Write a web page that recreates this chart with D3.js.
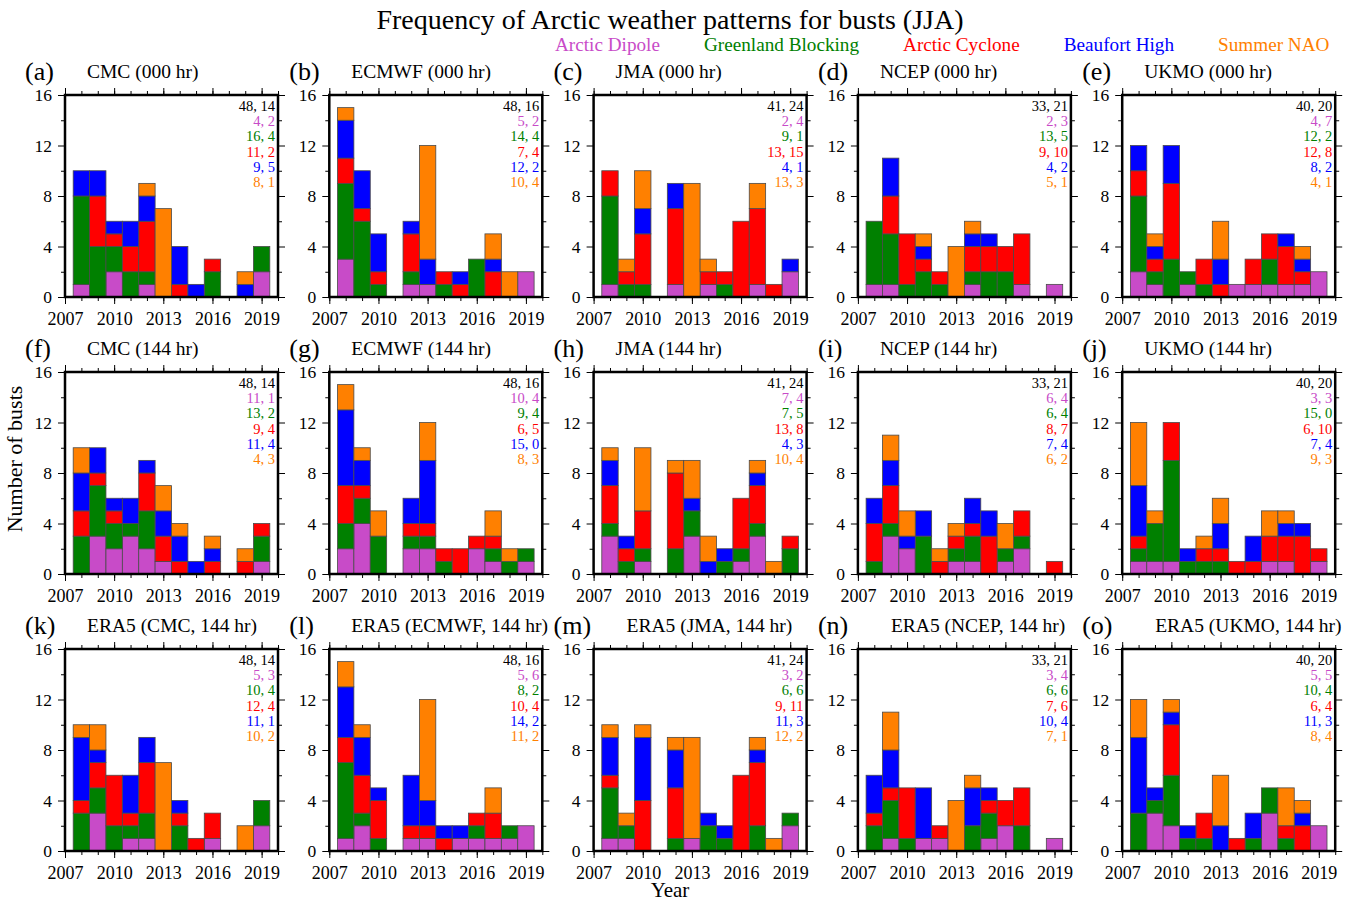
<!DOCTYPE html>
<html lang="en">
<head>
<meta charset="utf-8">
<title>Frequency of Arctic weather patterns for busts (JJA)</title>
<script src="https://d3js.org/d3.v7.min.js"></script>
<style>
  body { margin: 0; background: white; }
  svg { display: block; font-family: "Liberation Serif", "Times New Roman", serif; }
</style>
</head>
<body>
<div id="chart"></div>
<script>

// years shown as bars, and the year labels on the x axis
const years = [2008, 2009, 2010, 2011, 2012, 2013, 2014, 2015, 2016, 2017, 2018, 2019];
const yearLabels = [2007, 2010, 2013, 2016, 2019];
const countTicks = [0, 4, 8, 12, 16];

const patterns = ["Arctic Dipole", "Greenland Blocking", "Arctic Cyclone", "Beaufort High", "Summer NAO"];
const colors = ["#c84bc8", "#008000", "#ff0000", "#0000ff", "#ff8000"];

// each panel: one row per pattern (same order as above), one value per year 2008-2019
const cmc000 = [
  [1,0,2,0,1,0,0,0,0,0,0,2],
  [7,4,2,2,1,0,0,0,2,0,0,2],
  [0,4,1,2,4,0,1,0,1,0,0,0],
  [2,2,1,2,2,0,3,1,0,0,1,0],
  [0,0,0,0,1,7,0,0,0,0,1,0]];
const ecmwf000 = [
  [3,0,0,0,1,1,0,0,0,0,0,2],
  [6,6,1,0,1,0,1,0,3,0,0,0],
  [2,1,1,0,3,0,1,1,0,2,0,0],
  [3,3,3,0,1,2,0,1,0,1,0,0],
  [1,0,0,0,0,9,0,0,0,2,2,0]];
const jma000 = [
  [1,0,0,0,1,0,1,0,0,1,0,2],
  [7,1,1,0,0,0,0,1,0,0,0,0],
  [2,1,4,0,6,0,1,1,6,6,1,0],
  [0,0,2,0,2,0,0,0,0,0,0,1],
  [0,1,3,0,0,9,1,0,0,2,0,0]];
const ncep000 = [
  [1,1,0,0,0,0,1,0,0,1,0,1],
  [5,4,1,2,1,0,1,2,2,0,0,0],
  [0,3,4,1,1,0,2,2,2,4,0,0],
  [0,3,0,1,0,0,1,1,0,0,0,0],
  [0,0,0,1,0,4,1,0,0,0,0,0]];
const ukmo000 = [
  [2,1,0,1,0,0,1,1,1,1,1,2],
  [6,1,3,1,1,0,0,0,2,0,0,0],
  [2,1,6,0,2,1,0,2,2,3,1,0],
  [2,1,3,0,0,2,0,0,0,1,1,0],
  [0,1,0,0,0,3,0,0,0,0,1,0]];
const cmc144 = [
  [0,3,2,3,2,1,0,0,0,0,0,1],
  [3,4,2,1,3,0,0,0,0,0,0,2],
  [2,1,1,0,3,2,1,0,1,0,1,1],
  [3,2,1,2,1,2,2,1,1,0,0,0],
  [2,0,0,0,0,2,1,0,1,0,1,0]];
const ecmwf144 = [
  [2,4,0,0,2,2,0,0,2,1,0,1],
  [2,2,3,0,1,1,1,0,0,1,1,1],
  [3,1,0,0,1,1,1,2,1,1,0,0],
  [6,2,0,0,2,5,0,0,0,0,0,0],
  [2,1,2,0,0,3,0,0,0,2,1,0]];
const jma144 = [
  [3,0,1,0,0,3,0,0,1,3,0,0],
  [1,1,1,0,2,2,0,1,1,1,0,2],
  [3,1,3,0,6,0,0,0,4,3,0,1],
  [2,1,0,0,0,1,1,1,0,1,0,0],
  [1,0,5,0,1,3,2,0,0,1,1,0]];
const ncep144 = [
  [0,3,2,0,0,1,1,0,1,2,0,0],
  [1,1,0,3,0,1,2,0,1,1,0,0],
  [3,3,0,0,1,1,1,3,0,2,0,1],
  [2,2,1,2,0,0,2,2,0,0,0,0],
  [0,2,2,0,1,1,0,0,2,0,0,0]];
const ukmo144 = [
  [1,1,1,0,0,0,0,0,1,1,0,1],
  [1,3,8,1,1,1,0,0,0,0,0,0],
  [1,0,3,0,1,1,1,1,2,2,3,1],
  [4,0,0,1,0,2,0,2,0,1,1,0],
  [5,1,0,0,1,2,0,0,2,1,0,0]];
const era5cmc = [
  [0,3,0,1,1,0,0,0,1,0,0,2],
  [3,2,2,1,2,0,2,0,0,0,0,2],
  [1,2,4,1,4,0,1,1,2,0,0,0],
  [5,1,0,3,2,0,1,0,0,0,0,0],
  [1,2,0,0,0,7,0,0,0,0,2,0]];
const era5ecmwf = [
  [1,2,0,0,1,1,0,1,1,1,1,2],
  [6,1,1,0,0,0,0,0,1,0,1,0],
  [2,3,3,0,1,1,1,0,1,2,0,0],
  [4,3,1,0,4,2,1,1,0,0,0,0],
  [2,1,0,0,0,8,0,0,0,2,0,0]];
const era5jma = [
  [1,1,0,0,0,1,0,0,0,0,0,2],
  [4,1,0,0,1,0,2,1,0,2,0,1],
  [1,0,4,0,4,0,0,0,6,5,0,0],
  [3,0,5,0,3,0,1,1,0,1,0,0],
  [1,1,1,0,1,8,0,0,0,1,1,0]];
const era5ncep = [
  [0,1,0,1,1,0,0,1,2,0,0,1],
  [2,3,1,0,0,0,2,2,0,2,0,0],
  [1,1,4,0,1,0,0,1,2,3,0,0],
  [3,3,0,4,0,0,3,1,0,0,0,0],
  [0,3,0,0,0,4,1,0,0,0,0,0]];
const era5ukmo = [
  [0,3,2,0,0,0,0,0,3,0,0,2],
  [3,1,4,1,1,0,0,1,2,1,0,0],
  [0,0,4,0,2,0,1,0,0,1,2,0],
  [6,1,1,1,0,2,0,2,0,0,1,0],
  [3,0,1,0,0,4,0,0,0,3,1,0]];

const panels = [
  {tag: "(a)", title: "CMC (000 hr)", values: cmc000},
  {tag: "(b)", title: "ECMWF (000 hr)", values: ecmwf000},
  {tag: "(c)", title: "JMA (000 hr)", values: jma000},
  {tag: "(d)", title: "NCEP (000 hr)", values: ncep000},
  {tag: "(e)", title: "UKMO (000 hr)", values: ukmo000},
  {tag: "(f)", title: "CMC (144 hr)", values: cmc144},
  {tag: "(g)", title: "ECMWF (144 hr)", values: ecmwf144},
  {tag: "(h)", title: "JMA (144 hr)", values: jma144},
  {tag: "(i)", title: "NCEP (144 hr)", values: ncep144},
  {tag: "(j)", title: "UKMO (144 hr)", values: ukmo144},
  {tag: "(k)", title: "ERA5 (CMC, 144 hr)", values: era5cmc},
  {tag: "(l)", title: "ERA5 (ECMWF, 144 hr)", values: era5ecmwf},
  {tag: "(m)", title: "ERA5 (JMA, 144 hr)", values: era5jma},
  {tag: "(n)", title: "ERA5 (NCEP, 144 hr)", values: era5ncep},
  {tag: "(o)", title: "ERA5 (UKMO, 144 hr)", values: era5ukmo}
];

// layout
var width = 1357, height = 904;
var plotW = 213, plotH = 202;
var colStep = 264.3, rowStep = 277;
var left0 = 65, top0 = 95;

var svg = d3.select("#chart").append("svg")
    .attr("width", width)
    .attr("height", height);

svg.append("text")
    .attr("x", 670).attr("y", 29)
    .attr("text-anchor", "middle")
    .style("font-size", "28px")
    .text("Frequency of Arctic weather patterns for busts (JJA)");

// legend laid out left to right
var lx = 555;
patterns.forEach((p, i) => {
    var t = svg.append("text")
        .attr("x", lx).attr("y", 51)
        .attr("fill", colors[i])
        .style("font-size", "19.2px")
        .text(p);
    lx += t.node().getComputedTextLength() + 44;
});

svg.append("text")
    .attr("transform", "translate(22,459) rotate(-90)")
    .attr("text-anchor", "middle")
    .style("font-size", "22px")
    .text("Number of busts");

svg.append("text")
    .attr("x", 670).attr("y", 897)
    .attr("text-anchor", "middle")
    .style("font-size", "21px")
    .text("Year");

panels.forEach((p, i) => {
    var row = Math.floor(i / 5), col = i % 5;
    var x0 = left0 + col * colStep;
    var y0 = top0 + row * rowStep;

    var x = d3.scaleLinear().domain([2007, 2020]).range([x0, x0 + plotW]);
    var y = d3.scaleLinear().domain([0, 16]).range([y0 + plotH, y0]);

    var g = svg.append("g").attr("class", "panel");

    // stacked bars
    var table = years.map((yr, j) => {
        var o = {year: yr};
        patterns.forEach((name, k) => o[name] = p.values[k][j]);
        return o;
    });
    var series = d3.stack().keys(patterns)(table);

    g.selectAll("g.layer")
        .data(series)
        .enter().append("g")
        .attr("class", "layer")
        .attr("fill", (d, k) => colors[k])
        .selectAll("rect")
        .data(d => d.filter(s => s[1] > s[0]))
        .enter().append("rect")
        .attr("x", d => x(d.data.year - 0.5))
        .attr("width", d => x(d.data.year + 0.5) - x(d.data.year - 0.5))
        .attr("y", d => y(d[1]))
        .attr("height", d => y(d[0]) - y(d[1]))
        .attr("stroke", "#4a4a4a")
        .attr("stroke-width", 0.8);

    // axes: minor + major ticks on all four sides, pointing outward
    var xMinor = [2007].concat(years, [2020]);
    var yMinor = [2, 6, 10, 14];
    var axes = [
        d3.axisBottom(x).tickValues(xMinor).tickSize(4).tickFormat(""),
        d3.axisTop(x).tickValues(xMinor).tickSize(4).tickFormat(""),
        d3.axisTop(x).tickValues(yearLabels).tickSize(7).tickFormat(""),
        d3.axisLeft(y).tickValues(yMinor).tickSize(4).tickFormat(""),
        d3.axisRight(y).tickValues(yMinor).tickSize(4).tickFormat(""),
        d3.axisRight(y).tickValues(countTicks).tickSize(7).tickFormat("")
    ];
    var pos = ["b", "t", "t", "l", "r", "r"];
    axes.forEach((ax, k) => {
        var a = g.append("g")
            .attr("transform", pos[k] == "b" ? `translate(0,${y0 + plotH})`
                 : pos[k] == "t" ? `translate(0,${y0})`
                 : pos[k] == "l" ? `translate(${x0},0)` : `translate(${x0 + plotW},0)`)
            .call(ax);
        a.select(".domain").remove();
    });

    var xa = g.append("g")
        .attr("transform", `translate(0,${y0 + plotH})`)
        .call(d3.axisBottom(x).tickValues(yearLabels).tickSize(7).tickPadding(8).tickFormat(d3.format("d")));
    xa.select(".domain").remove();
    xa.attr("font-family", null).attr("font-size", null);
    xa.selectAll("text").style("font-size", "18px").attr("fill", "#000");

    var ya = g.append("g")
        .attr("transform", `translate(${x0},0)`)
        .call(d3.axisLeft(y).tickValues(countTicks).tickSize(7).tickPadding(6));
    ya.select(".domain").remove();
    ya.attr("font-family", null).attr("font-size", null);
    ya.selectAll("text").style("font-size", "17.5px").attr("fill", "#000");

    g.selectAll(".tick line").attr("stroke", "#000").attr("stroke-width", 1);

    // frame
    g.append("rect")
        .attr("x", x0).attr("y", y0)
        .attr("width", plotW).attr("height", plotH)
        .attr("fill", "none")
        .attr("stroke", "#000")
        .attr("stroke-width", 2.5);

    // counts 2008-2013, 2014-2019
    var firstHalf = d => d3.sum(d.slice(0, 6));
    var secondHalf = d => d3.sum(d.slice(6));
    var lines = [{txt: d3.sum(p.values, firstHalf) + ", " + d3.sum(p.values, secondHalf), c: "#000"}]
        .concat(p.values.map((v, k) => ({txt: firstHalf(v) + ", " + secondHalf(v), c: colors[k]})));
    g.selectAll("text.count")
        .data(lines)
        .enter().append("text")
        .attr("class", "count")
        .attr("x", x0 + plotW - 3)
        .attr("y", (d, k) => y0 + 16 + k * 15.2)
        .attr("text-anchor", "end")
        .attr("fill", d => d.c)
        .style("font-size", "14.5px")
        .text(d => d.txt);

    // panel tag + title
    var titleDx = (row == 2 && col >= 2) ? 33 : 22;
    g.append("text")
        .attr("x", x0 - 40).attr("y", y0 - 15)
        .style("font-size", "26px")
        .text(p.tag);
    g.append("text")
        .attr("x", x0 + titleDx).attr("y", y0 - 17)
        .style("font-size", "19.5px")
        .text(p.title);
});

</script>
</body>
</html>
